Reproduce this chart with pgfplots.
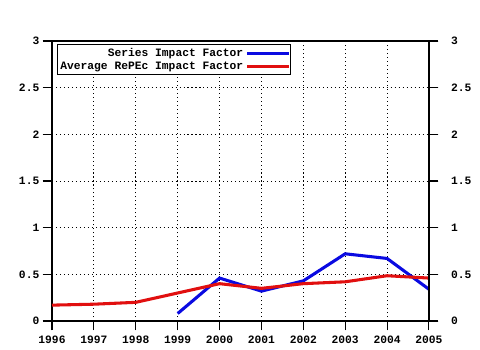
\documentclass[border=0pt]{standalone}
\usepackage{pgfplots}
\pgfplotsset{compat=1.18}
\usepackage{fontspec}
\setmainfont{Liberation Mono}
\definecolor{sblue}{RGB}{10,10,225}
\definecolor{sred}{RGB}{225,15,15}
\begin{document}
\begin{tikzpicture}[font=\fontsize{8.5}{10}\selectfont\bfseries]
\begin{axis}[
  scale only axis,
  width=282.75bp, height=210bp,
  xmin=1996, xmax=2005, ymin=0, ymax=3,
  xtick={1996,...,2005},
  xticklabels={1996,1997,1998,1999,2000,2001,2002,2003,2004,2005},
  ytick={0,0.5,1,1.5,2,2.5,3},
  yticklabels={0,0.5,1,1.5,2,2.5,3},
  tick align=outside,
  major tick length=7bp,
  tick style={black, line width=0.8pt},
  axis line style={line width=0.8pt},
  ytick pos=both, xtick pos=lower,
  yticklabel pos=left,
  grid=major,
  major grid style={black, dash pattern=on 0.8pt off 2.2pt, line width=0.7pt},
  /pgf/number format/assume math mode=true,
  xticklabel style={yshift=-1bp},
  yticklabel style={xshift=1bp},
  legend style={at={(rel axis cs:0.014,0.988)}, anchor=north west, draw=black, line width=0.6pt,
    inner xsep=0pt, inner ysep=0.5pt, row sep=-1.5pt, font=\fontsize{8.5}{9}\selectfont\bfseries},
  legend cell align=right,
  legend plot pos=right,
  legend image code/.code={\draw[#1, line width=2.3bp] (0bp,0bp) -- (31bp,0bp);},
  every axis plot/.append style={line width=2.3bp},
  clip=false,
]
\addplot[sblue] coordinates {(1999,0.08) (2000,0.46) (2001,0.32) (2002,0.43) (2003,0.72) (2004,0.67) (2005,0.34)};
\addlegendentry{Series Impact Factor}
\addplot[sred] coordinates {(1996,0.17) (1997,0.18) (1998,0.20) (1999,0.30) (2000,0.40) (2001,0.35) (2002,0.40) (2003,0.42) (2004,0.485) (2005,0.46)};
\addlegendentry{Average RePEc Impact Factor}
\end{axis}
\begin{axis}[
  scale only axis,
  width=282.75bp, height=210bp,
  xmin=1996, xmax=2005, ymin=0, ymax=3,
  axis x line=none,
  axis y line*=right,
  ytick={0,0.5,1,1.5,2,2.5,3},
  yticklabels={0,0.5,1,1.5,2,2.5,3},
  tick align=outside,
  major tick length=7bp,
  tick style={black, line width=0.8pt},
  axis line style={line width=0.8pt},
  yticklabel style={xshift=6bp},
]
\end{axis}
\path[use as bounding box] (-39bp,-21.75bp) rectangle (321bp,240.75bp);
\end{tikzpicture}
\end{document}
